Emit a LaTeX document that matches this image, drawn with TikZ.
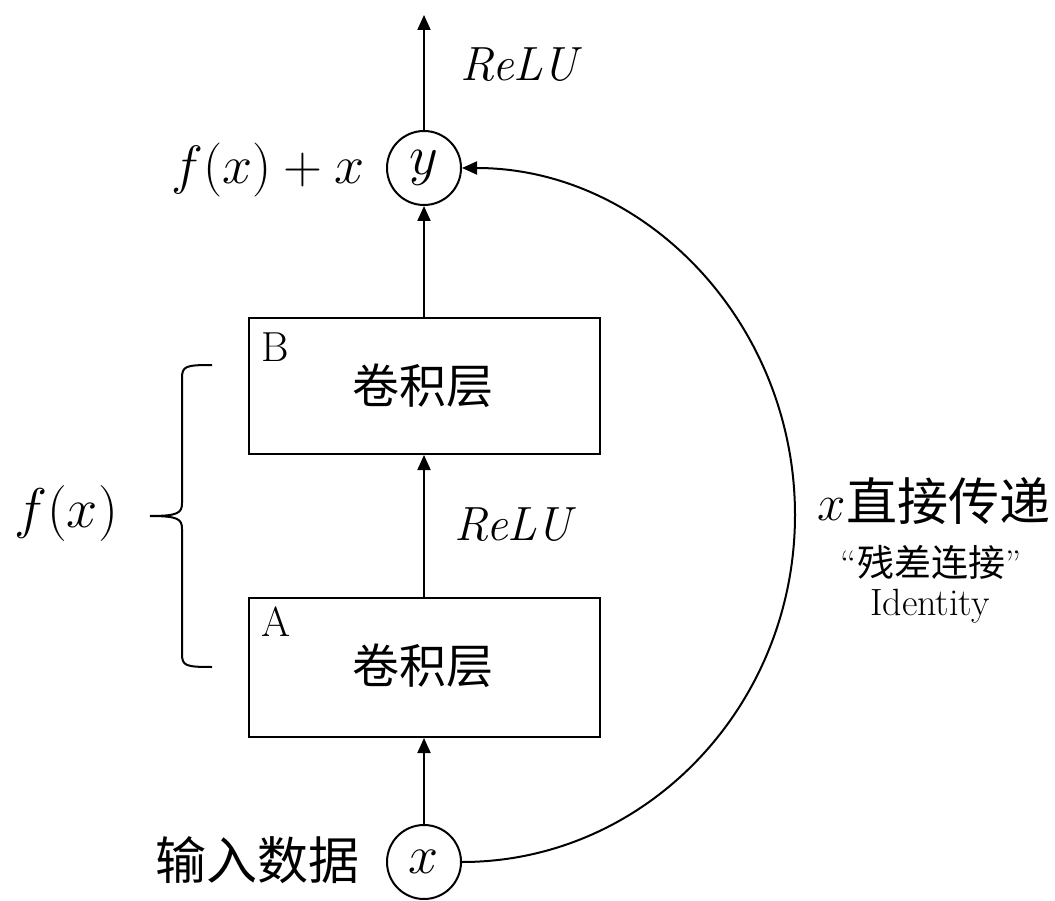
\RequirePackage{fix-cm}
\documentclass[tikz,border=0pt]{standalone}
\usepackage{fontspec}
\newfontfamily\cjk{Noto Sans CJK SC}
\usetikzlibrary{arrows.meta}
\begin{document}
\begin{tikzpicture}[x=1pt,y=-1pt,
  line width=2pt,
  arr/.style={-{Triangle[length=15pt,width=13pt]}},
  boxn/.style={draw,rectangle,minimum width=351pt,inner sep=0pt},
  circn/.style={draw,circle,minimum size=74pt,inner sep=0pt},
  cjkbig/.style={font=\cjk\fontsize{47}{50}\selectfont},
  lbl/.style={inner sep=0pt}]
\useasboundingbox (0,0) rectangle (1055,901);
% nodes
\node[circn] (ynode) at (424,168) {\fontsize{56}{60}\selectfont$y$};
\node[circn] (xnode) at (424,862) {\fontsize{54}{58}\selectfont$x$};
\node[boxn,minimum height=136pt] (boxB) at (424,386) {};
\node[boxn,minimum height=139pt] (boxA) at (424,667.5) {};
\node[lbl,cjkbig] (convB) at (423,386) {卷积层};
\node[lbl,cjkbig] (convA) at (423,666) {卷积层};
\node[lbl,font=\fontsize{42}{46}\selectfont] (labB) at (275,347) {B};
\node[lbl,font=\fontsize{42}{46}\selectfont] (labA) at (276,622) {A};
\node[lbl,font=\fontsize{48}{52}\selectfont\itshape] (relutop) at (519,65) {ReLU};
\node[lbl,font=\fontsize{48}{52}\selectfont\itshape] (relumid) at (513,525) {ReLU};
\node[lbl,font=\fontsize{54}{58}\selectfont] (fxx) at (268,170) {$f(x)+x$};
\node[lbl,font=\fontsize{56}{60}\selectfont] (fx) at (66,513) {$f(x)$};
\node[lbl,font=\cjk\fontsize{51}{54}\selectfont] (input) at (257,860) {输入数据};
\node[lbl,font=\fontsize{51}{54}\selectfont] (pass) at (934,501) {$x$\cjk 直接传递};
\node[lbl,font=\fontsize{37}{40}\selectfont] (resid) at (931,562) {“{\cjk 残差连接}”};
\node[lbl,font=\fontsize{38}{42}\selectfont] (ident) at (930,606) {Identity};
\coordinate (top) at (424,15);
\coordinate (peak) at (795,515);
% connectors
\draw[arr] (xnode.north) -- (boxA.south);
\draw[arr] (boxA.north) -- (boxB.south);
\draw[arr] (boxB.north) -- (ynode.south);
\draw[arr] (ynode.north) -- (top);
\draw[arr] (xnode.east) .. controls +(184,0) and +(0,191) .. (peak)
  .. controls +(0,-191) and +(184,0) .. (ynode.east);
% brace
\coordinate (bt) at (212,365);
\coordinate (bb) at (212,667);
\coordinate (btip) at (150,516);
\draw (bt) .. controls (186,365) and (182,366) .. (182,378)
  -- (182,503) .. controls (182,513) and (178,516) .. (btip)
  (btip) .. controls (178,516) and (182,519) .. (182,529)
  -- (182,654) .. controls (182,666) and (186,667) .. (bb);
\end{tikzpicture}
\end{document}
